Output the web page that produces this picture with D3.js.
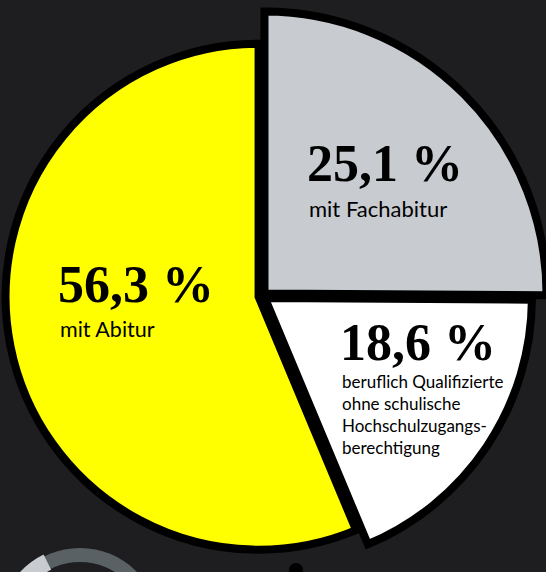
<!DOCTYPE html>
<html>
<head>
<meta charset="utf-8">
<script src="https://cdn.jsdelivr.net/npm/d3@7"></script>
<style>
  html, body { margin: 0; padding: 0; background: #1e1e20; }
  svg { display: block; }
</style>
</head>
<body>
<svg id="chart" width="546" height="572"></svg>
<script>
// ---- data ----
const categories = ["Fachabitur", "beruflich Qualifizierte", "Abitur"];
const values = [25.1, 18.6, 56.3];
const descriptions = [
  ["mit Fachabitur"],
  ["beruflich Qualifizierte", "ohne schulische", "Hochschulzugangs-", "berechtigung"],
  ["mit Abitur"]
];
const colors = ["#c8ccd0", "#ffffff", "#ffff00"];

// ---- layout / style ----
const W = 546, H = 572;
const cx = 262, cy = 296;
const explode = 3.5;
const radius = d3.scaleOrdinal().domain(categories).range([282, 267, 253]);
const color = d3.scaleOrdinal().domain(categories).range(colors);
const labelPos = d3.scaleOrdinal().domain(categories).range([[307, 181], [340, 360], [58, 302]]);
const descSize = d3.scaleOrdinal().domain(categories).range([22, 17, 21.5]);
const descOffset = d3.scaleOrdinal().domain(categories).range([36, 28, 35]);
const lineHeight = 22;

const de = d3.formatLocale({decimal: ",", thousands: ".", grouping: [3], currency: ["", " €"]});
const fmt = v => de.format(".1f")(v) + " %";

const svg = d3.select("#chart");
svg.append("rect").attr("width", W).attr("height", H).attr("fill", "#1e1e20");

const data = categories.map((c, i) => ({cat: c, value: values[i], desc: descriptions[i]}));
const pie = d3.pie().sort(null).value(d => d.value).startAngle(0).endAngle(2 * Math.PI);
const arcs = pie(data);

// decoration: partial ring at bottom left (next graphic peeking in)
const deco = svg.append("g").attr("transform", "translate(80,628)");
deco.append("path")
  .attr("d", d3.arc()({innerRadius: 66, outerRadius: 80, startAngle: 0, endAngle: 2 * Math.PI}))
  .attr("fill", "#596165");
deco.append("path")
  .attr("d", d3.arc()({innerRadius: 65, outerRadius: 82, startAngle: -1.0, endAngle: -0.46}))
  .attr("fill", "#c8ccd0");

// slices
const g = svg.append("g").attr("transform", `translate(${cx},${cy})`);
const order = [2, 1, 0];
order.forEach(i => {
  const a = arcs[i];
  const mid = (a.startAngle + a.endAngle) / 2;
  const dx = explode * Math.sin(mid), dy = -explode * Math.cos(mid);
  g.append("path")
    .attr("transform", `translate(${dx},${dy})`)
    .attr("d", d3.arc().innerRadius(0).outerRadius(radius(a.data.cat))(a))
    .attr("fill", color(a.data.cat))
    .attr("stroke", "#000")
    .attr("stroke-width", 8)
    .attr("stroke-linejoin", "miter");
});

// dot at bottom
svg.append("circle").attr("cx", 296).attr("cy", 570).attr("r", 7).attr("fill", "#000");

// labels
arcs.forEach(a => {
  const [x, y] = labelPos(a.data.cat);
  const t = svg.append("g");
  t.append("text")
    .attr("x", x).attr("y", y)
    .attr("font-family", "'Liberation Serif', 'DejaVu Serif', serif")
    .attr("font-weight", "bold")
    .attr("font-size", 52)
    .attr("fill", "#000")
    .text(fmt(a.data.value));
  const fs = descSize(a.data.cat);
  a.data.desc.forEach((line, j) => {
    t.append("text")
      .attr("x", x + 2).attr("y", y + descOffset(a.data.cat) + j * lineHeight)
      .attr("font-family", "Lato, 'Open Sans', sans-serif")
      .attr("font-size", fs)
      .attr("fill", "#000")
      .text(line);
  });
});
</script>
</body>
</html>
